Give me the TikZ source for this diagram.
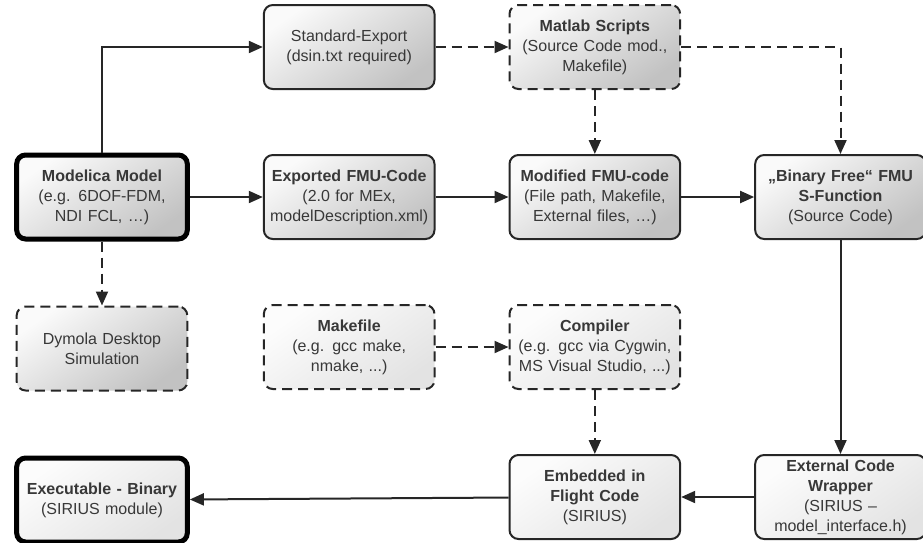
\documentclass[tikz,border=0pt]{standalone}
\usepackage{fontspec}
\setmainfont{Liberation Sans}
\usepackage{tikz}
\usetikzlibrary{positioning,arrows.meta,calc}
\tikzstyle{BOX} = [rectangle, draw=black!85, line width=2pt, rounded corners=9pt, minimum width=170pt, minimum height=84pt, text width=164pt, align=center, text=black!78, font=\fontsize{16}{20}\selectfont]
\tikzstyle{LINE} = [draw, line width=2pt, black!85, -{Triangle[length=14pt,width=12pt]}]
\tikzstyle{DLINE} = [LINE, dash pattern=on 10pt off 6pt]

\begin{document}
\begin{tikzpicture}[node distance = 64pt and 73pt]
% Define
\tikzstyle{BOX_DARK} = [BOX, top color=gray!4, bottom color=gray!48, shading angle=35]
\tikzstyle{BOX_LIGHT} = [BOX, top color=gray!2, bottom color=gray!22, shading angle=35]
\tikzstyle{BOX_MAIN} = [BOX_DARK, line width=5pt, draw=black]
\tikzstyle{BOX_END} = [BOX_LIGHT, line width=5pt, draw=black]
\tikzstyle{BOX_OPT} = [BOX_DARK, dash pattern=on 10pt off 6pt]
\tikzstyle{BOX_TOOL} = [BOX_LIGHT, dash pattern=on 10pt off 6pt]
\useasboundingbox (0,0) rectangle (923pt,-542pt);
% Place node
\node [BOX_MAIN] at (102pt,-197pt) (MODELICA) {\textbf{Modelica Model}\\(e.g. 6DOF-FDM,\\NDI FCL, …)};
\node [BOX_DARK, right=of MODELICA] (EXPORTED) {\textbf{Exported FMU-Code}\\(2.0 for MEx,\\modelDescription.xml)};
\node [BOX_DARK, right=of EXPORTED] (MODIFIED) {\textbf{Modified FMU-code}\\(File path, Makefile,\\External files, …)};
\node [BOX_DARK, right=of MODIFIED] (BINARY) {\textbf{„Binary Free“ FMU}\\\textbf{S-Function}\\(Source Code)};
%
\node [BOX_DARK, above=of EXPORTED] (STD_EXPORT) {Standard-Export\\(dsin.txt required)};
\node [BOX_OPT, above=of MODIFIED] (MATLAB) {\textbf{Matlab Scripts}\\(Source Code mod.,\\Makefile)};
%
\node [BOX_OPT, below=of MODELICA] (DYMOLA) {Dymola Desktop\\Simulation};
\node [BOX_TOOL, below=of EXPORTED] (MAKEFILE) {\textbf{Makefile}\\(e.g. gcc make,\\nmake, ...)};
\node [BOX_TOOL, below=of MODIFIED] (COMPILER) {\textbf{Compiler}\\(e.g. gcc via Cygwin,\\MS Visual Studio, ...)};
%
\node [BOX_LIGHT, below=of COMPILER] (EMBEDDED) {\textbf{Embedded in}\\\textbf{Flight Code}\\(SIRIUS)};
\node [BOX_LIGHT, right=of EMBEDDED] (WRAPPER) {\textbf{External Code}\\\textbf{Wrapper}\\(SIRIUS –\\model\_interface.h)};
\node [BOX_END, below=of DYMOLA] (EXECUTABLE) {\textbf{Executable - Binary}\\(SIRIUS module)};
% LINES and ARROWS
\path [LINE] (MODELICA.north) |- (STD_EXPORT.west);
\path [LINE] (MODELICA) -- (EXPORTED);
\path [DLINE] (MODELICA) -- (DYMOLA);
\path [DLINE] (STD_EXPORT) -- (MATLAB);
\path [DLINE] (MATLAB) -- (MODIFIED);
\path [DLINE] (MATLAB.east) -| (BINARY.north);
\path [LINE] (EXPORTED) -- (MODIFIED);
\path [LINE] (MODIFIED) -- (BINARY);
%
\path [LINE] (BINARY) -- (WRAPPER);
\path [DLINE] (MAKEFILE) -- (COMPILER);
\path [DLINE] (COMPILER) -- (EMBEDDED);
\path [LINE] (WRAPPER) -- (EMBEDDED);
\path [LINE] (EMBEDDED) -- (EXECUTABLE);
\end{tikzpicture}
\end{document}
